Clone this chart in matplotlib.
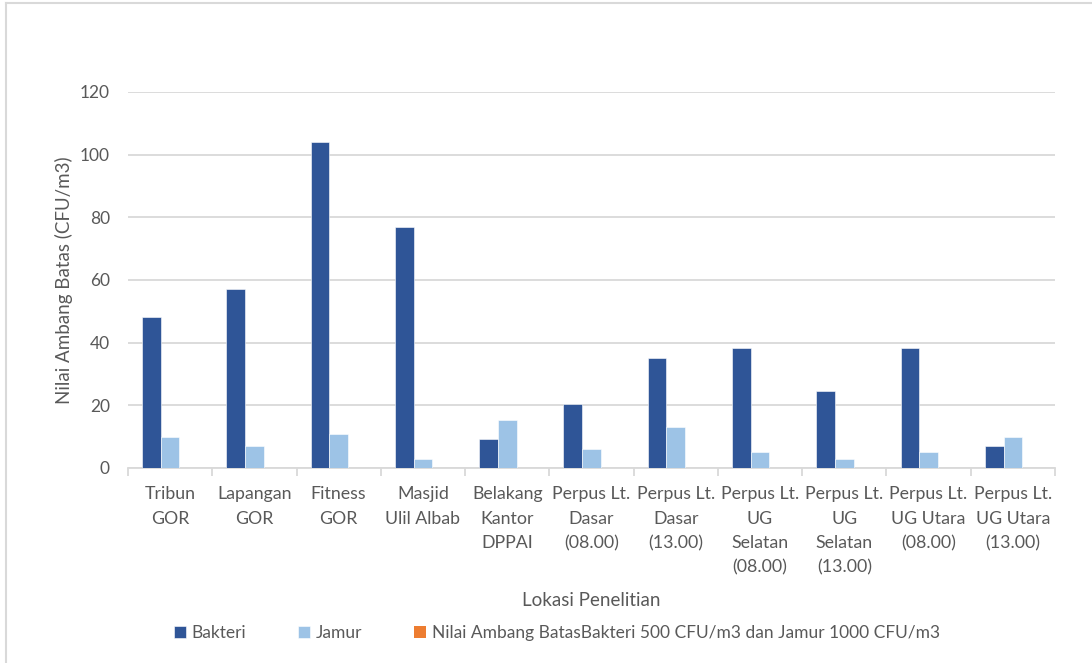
import numpy as np
import matplotlib
matplotlib.use("Agg")
from matplotlib import pyplot as plt
from matplotlib.lines import Line2D

plt.rcParams['font.family'] = ['Lato', 'DejaVu Sans']

lokasi = ["Tribun\nGOR", "Lapangan\nGOR", "Fitness\nGOR", "Masjid\nUlil Albab",
          "Belakang\nKantor\nDPPAI", "Perpus Lt.\nDasar\n(08.00)", "Perpus Lt.\nDasar\n(13.00)",
          "Perpus Lt.\nUG\nSelatan\n(08.00)", "Perpus Lt.\nUG\nSelatan\n(13.00)",
          "Perpus Lt.\nUG Utara\n(08.00)", "Perpus Lt.\nUG Utara\n(13.00)"]
bakteri = [48.3, 57, 104, 77, 9.4, 20.4, 35, 38.4, 24.6, 38.4, 7]
jamur = [9.8, 7, 10.8, 3, 15.3, 6.1, 13, 5, 3, 5, 9.8]
nab = [0, 0, 0, 0, 0, 0, 0, 0, 0, 0, 0]
yticks = [0, 20, 40, 60, 80, 100, 120]

grey = "#595959"
lgrey = "#D9D9D9"

fig = plt.figure(figsize=(10.92, 6.63), dpi=100)
ax = fig.add_axes([128/1092, 1-468/663, (1055-128)/1092, (468-92)/663])

x = np.arange(len(lokasi))
w = 0.222
ax.bar(x - w, bakteri, w, color="#2F5597", edgecolor="white", linewidth=0.4, label="Bakteri", zorder=3)
ax.bar(x, jamur, w, color="#9DC3E6", edgecolor="white", linewidth=0.4, label="Jamur", zorder=3)
ax.bar(x + w, nab, w, color="#ED7D31", label="Nilai Ambang BatasBakteri 500 CFU/m3 dan Jamur 1000 CFU/m3", zorder=3)

ax.set_xlim(-0.5, len(lokasi) - 0.5)
ax.set_ylim(0, 120)
ax.set_yticks(yticks)
ax.yaxis.grid(True, color=lgrey, linewidth=1.3, zorder=0)
ax.tick_params(axis='y', length=0, labelsize=12.5, labelcolor=grey, pad=13)

ax.set_xticks(x)
ax.set_xticklabels(lokasi, fontsize=12.8, color=grey, linespacing=1.65)
ax.set_xticks(np.arange(len(lokasi) + 1) - 0.5, minor=True)
ax.tick_params(axis='x', which='major', length=0, pad=13)
ax.tick_params(axis='x', which='minor', length=6, color=lgrey, width=1.3)

for s in ['top', 'right', 'left']:
    ax.spines[s].set_visible(False)
ax.spines['bottom'].set_color(lgrey)
ax.spines['bottom'].set_linewidth(1.3)

ax.set_ylabel("Nilai Ambang Batas (CFU/m3)", fontsize=13.5, color=grey, labelpad=5)
ax.set_xlabel("Lokasi Penelitian", fontsize=13.5, color=grey, labelpad=12)

handles, labels = ax.get_legend_handles_labels()
leg = fig.legend(handles, labels, loc='center', bbox_to_anchor=(0.51, 1-633/663), ncol=3,
                 frameon=False, fontsize=12.5, handlelength=0.7, handleheight=0.7,
                 handletextpad=0.3, columnspacing=3.0)
for t in leg.get_texts():
    t.set_color(grey)

# chart border (left and top visible)
fig.add_artist(Line2D([6/1092, 6/1092], [0, 1-3/663], color=lgrey, linewidth=1.5))
fig.add_artist(Line2D([6/1092, 1], [1-3/663, 1-3/663], color=lgrey, linewidth=1.5))

fig.savefig("out.png", dpi=100)
